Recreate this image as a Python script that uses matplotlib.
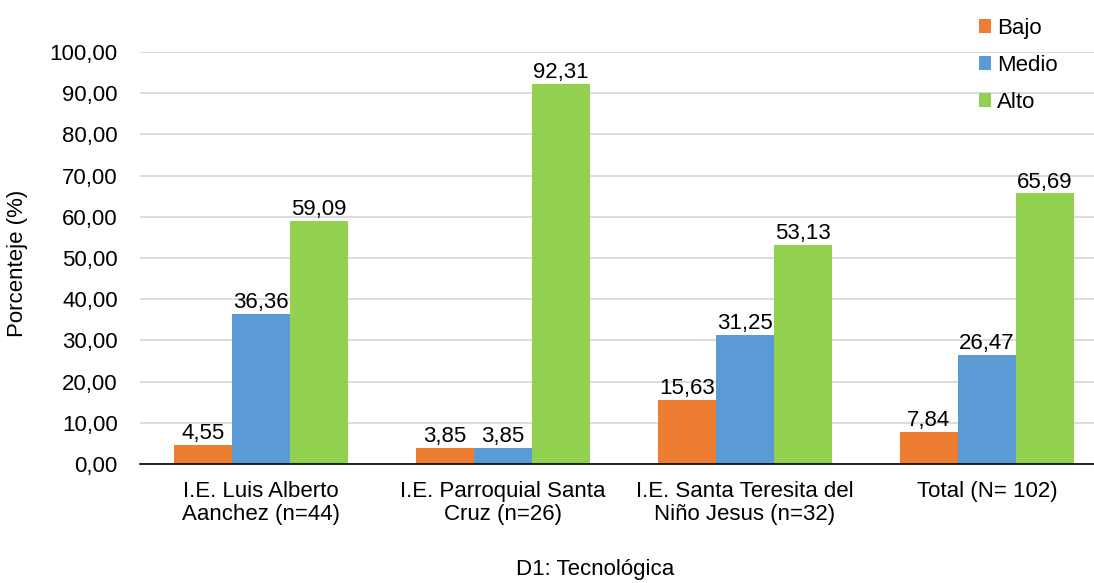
import matplotlib
matplotlib.use("Agg")
import matplotlib.pyplot as plt
import numpy as np

categories = ["I.E. Luis Alberto\nAanchez (n=44)", "I.E. Parroquial Santa\nCruz (n=26)",
              "I.E. Santa Teresita del\nNiño Jesus (n=32)", "Total (N= 102)"]
series_names = ["Bajo", "Medio", "Alto"]
bajo = [4.55, 3.85, 15.63, 7.84]
medio = [36.36, 3.85, 31.25, 26.47]
alto = [59.09, 92.31, 53.13, 65.69]
yticks = [0, 10, 20, 30, 40, 50, 60, 70, 80, 90, 100]

colors = ["#ED7D31", "#5B9BD5", "#92D050"]
FS = 16

plt.rcParams['font.family'] = ['Liberation Sans', 'DejaVu Sans']
fig = plt.figure(figsize=(10.94, 5.83), dpi=100)
ax = fig.add_axes([140/1094, (583-464)/583, (1108-140)/1094, (464-52)/583])

x = np.arange(len(categories))
w = 0.24
for i, (vals, name, c) in enumerate(zip([bajo, medio, alto], series_names, colors)):
    bars = ax.bar(x + (i-1)*w, vals, width=w, color=c, label=name, zorder=3)
    for b, v in zip(bars, vals):
        ax.text(b.get_x()+b.get_width()/2, v + 0.2, f"{v:.2f}".replace(".", ","),
                ha="center", va="bottom", fontsize=FS, color="#000000")

ax.set_xlim(-0.5, len(categories)-0.5)
ax.set_ylim(0, 100)
ax.set_yticks(yticks)
ax.set_yticklabels([f"{t:.2f}".replace(".", ",") for t in yticks], fontsize=FS)
ax.set_xticks(x)
ax.set_xticklabels(categories, fontsize=FS, linespacing=1.15)
ax.tick_params(axis="y", length=0, pad=16)
ax.tick_params(axis="x", length=0, pad=12)
ax.yaxis.grid(True, color="#D9D9D9", linewidth=1.3, zorder=0)
ax.set_axisbelow(True)
for s in ["top", "right", "left"]:
    ax.spines[s].set_visible(False)
ax.spines["bottom"].set_color("#000000")
ax.spines["bottom"].set_linewidth(1.2)
ax.spines["bottom"].set_zorder(4)

fig.text(18/1094, 1-263/583, "Porcenteje (%)", rotation=90, ha="center", va="center", fontsize=FS)
fig.text(595/1094, 1-570/583, "D1: Tecnológica", ha="center", va="center", fontsize=FS)

leg = fig.legend(loc="upper left", bbox_to_anchor=(979/1094, 1-18/583), frameon=False,
                 fontsize=FS, handlelength=0.55, handleheight=0.55, handletextpad=0.25,
                 labelspacing=0.72, borderaxespad=0, borderpad=0)

fig.savefig("out.png", dpi=100)
